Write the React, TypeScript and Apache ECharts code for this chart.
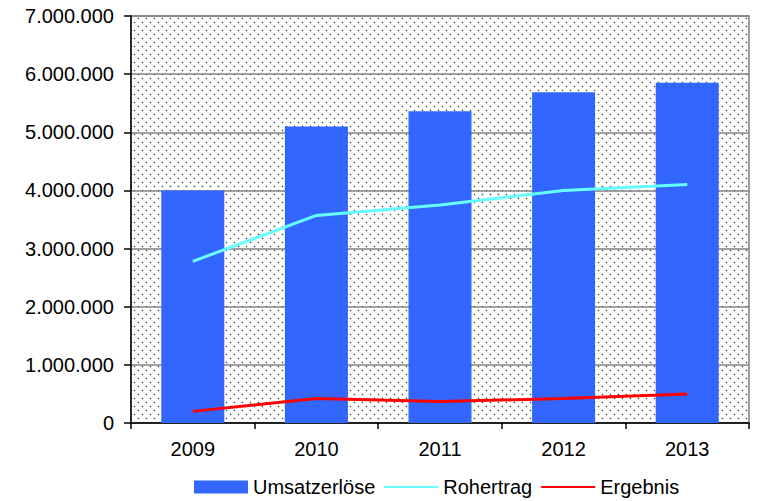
import React, { useEffect, useRef } from "react";
import * as echarts from "echarts";

const categories = ["2009", "2010", "2011", "2012", "2013"];
const umsatzerloese = [4000000, 5100000, 5360000, 5690000, 5850000];
const rohertrag = [2780000, 3570000, 3750000, 4000000, 4100000];
const ergebnis = [200000, 420000, 370000, 420000, 500000];
const seriesNames = ["Umsatzerlöse", "Rohertrag", "Ergebnis"];

const FONT = "'Liberation Sans', Arial, sans-serif";

function fmt(v: number): string {
  return String(Math.round(v)).replace(/\B(?=(\d{3})+(?!\d))/g, ".");
}

function makeDots(): HTMLCanvasElement {
  const c = document.createElement("canvas");
  c.width = 8;
  c.height = 8;
  const ctx = c.getContext("2d")!;
  ctx.fillStyle = "#ffffff";
  ctx.fillRect(0, 0, 8, 8);
  const dot = (x: number, y: number) => {
    ctx.fillStyle = "#dcdcdc";
    ctx.fillRect(x - 1, y, 3, 1);
    ctx.fillRect(x, y - 1, 1, 3);
    ctx.fillStyle = "#3a3a3a";
    ctx.fillRect(x, y, 1, 1);
  };
  dot(2, 2);
  dot(6, 6);
  return c;
}

export default function App() {
  const ref = useRef<HTMLDivElement>(null);
  useEffect(() => {
    if (!ref.current) return;
    const chart = echarts.init(ref.current, null, { renderer: "svg" });
    const dots = makeDots();
    chart.setOption({
      animation: false,
      backgroundColor: "#ffffff",
      textStyle: { fontFamily: FONT },
      grid: {
        left: 131,
        top: 16,
        right: 8,
        bottom: 78,
        show: true,
        borderColor: "#808080",
        borderWidth: 1.5,
        backgroundColor: { image: dots, repeat: "repeat", imageWidth: 8, imageHeight: 8 } as any,
      },
      legend: {
        left: 189,
        top: 472,
        itemWidth: 54,
        itemHeight: 13,
        itemGap: 8,
        textStyle: { fontSize: 20, color: "#000", fontFamily: FONT },
        data: [
          { name: seriesNames[0], icon: "rect" },
          { name: seriesNames[1], itemStyle: { opacity: 0 } },
          { name: seriesNames[2], itemStyle: { opacity: 0 } },
        ],
      },
      xAxis: {
        type: "category",
        data: categories,
        axisLine: { lineStyle: { color: "#000", width: 1.5 } },
        axisTick: { show: true, length: 6, lineStyle: { color: "#000", width: 1.5 } },
        axisLabel: { fontSize: 20, color: "#000", margin: 16, fontFamily: FONT },
        splitLine: { show: false },
      },
      yAxis: {
        type: "value",
        min: 0,
        max: 7000000,
        interval: 1000000,
        axisLine: { show: true, lineStyle: { color: "#000", width: 1.5 } },
        axisTick: { show: true, length: 7, lineStyle: { color: "#000", width: 1.5 } },
        axisLabel: {
          fontSize: 20,
          color: "#000",
          margin: 17,
          fontFamily: FONT,
          formatter: (v: number) => fmt(v),
        },
        splitLine: { show: true, lineStyle: { color: "#808080", width: 1.5 } },
      },
      series: [
        {
          name: seriesNames[0],
          type: "bar",
          data: umsatzerloese,
          barWidth: "51%",
          itemStyle: { color: "#3366ff" },
          z: 2,
        },
        {
          name: seriesNames[1],
          type: "line",
          data: rohertrag,
          symbol: "none",
          lineStyle: { color: "#66ffff", width: 3 },
          itemStyle: { color: "#66ffff" },
          z: 3,
        },
        {
          name: seriesNames[2],
          type: "line",
          data: ergebnis,
          symbol: "none",
          lineStyle: { color: "#ff0000", width: 3 },
          itemStyle: { color: "#ff0000" },
          z: 3,
        },
      ],
    });
    return () => chart.dispose();
  }, []);
  return (
    <div
      ref={ref}
      style={{ position: "fixed", left: 0, top: 0, width: 757, height: 501 }}
    />
  );
}
